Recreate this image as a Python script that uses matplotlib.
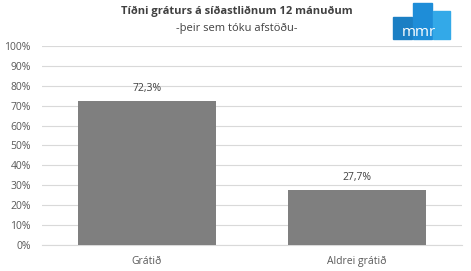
import matplotlib.pyplot as plt
from matplotlib.patches import Rectangle

categories = ["Grátið", "Aldrei grátið"]
values = [72.3, 27.7]
value_labels = ["72,3%", "27,7%"]
yticks = list(range(0, 101, 10))

plt.rcParams['font.family'] = ['Open Sans', 'DejaVu Sans']

fig = plt.figure(figsize=(4.71, 2.71), dpi=100)
ax = fig.add_axes([42 / 471, 1 - 245 / 271, 420 / 471, 199 / 271])

x = list(range(len(categories)))
ax.bar(x, values, width=0.66, color='#7f7f7f', zorder=3)
for xi, v, lab in zip(x, values, value_labels):
    ax.text(xi, v + 3.5, lab, ha='center', va='bottom', fontsize=7.5, color='#404040')

ax.set_xlim(-0.5, 1.5)
ax.set_ylim(0, 100)
ax.set_yticks(yticks)
ax.set_yticklabels([f"{t}%" for t in yticks], fontsize=7.5, color='#595959')
ax.set_xticks(x)
ax.set_xticklabels(categories, fontsize=7.5, color='#595959')
ax.tick_params(length=0, pad=8)
ax.tick_params(axis='x', pad=8)
ax.grid(axis='y', color='#d9d9d9', linewidth=0.8, zorder=0)
for s in ['top', 'right', 'left']:
    ax.spines[s].set_visible(False)
ax.spines['bottom'].set_color('#d9d9d9')

fig.text(0.503, 1 - 11 / 271, "Tíðni gráturs á síðastliðnum 12 mánuðum", ha='center', va='center',
         fontsize=8, fontweight='bold', color='#404040')
fig.text(0.503, 1 - 28 / 271, "-þeir sem tóku afstöðu-", ha='center', va='center',
         fontsize=8, color='#404040')

# logo
def px(x0, y0, x1, y1, c):
    fig.patches.append(Rectangle((x0 / 471, 1 - y1 / 271), (x1 - x0) / 471, (y1 - y0) / 271,
                                 transform=fig.transFigure, color=c, zorder=5))

px(393, 17, 412, 39, '#1b7fc4')
px(413, 3, 432, 39, '#1e8dd8')
px(433, 11, 450, 39, '#33a9e8')
fig.text(419 / 471, 1 - 33 / 271, "mmr", ha='center', va='center', fontsize=11, color='white', zorder=6)

fig.savefig("out.png", dpi=100)
